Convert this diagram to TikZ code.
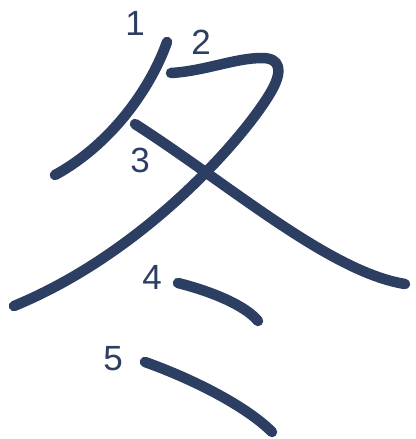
\documentclass[tikz,border=0pt]{standalone}
\usepackage{fontspec}
\setmainfont{Liberation Sans}
\definecolor{ink}{RGB}{44,62,98}
\begin{document}
\begin{tikzpicture}[x=1pt,y=-1pt,
  strokeline/.style={draw=ink,line width=10.5pt,line cap=round,line join=round},
  num/.style={text=ink,font=\fontsize{35}{35}\selectfont,inner sep=0pt}]
\useasboundingbox (0,0) rectangle (415,439);
% stroke 1
\draw[strokeline] (167,42) .. controls (150,90) and (110,145) .. (55,175);
% stroke 2
\draw[strokeline] (171,73) .. controls (205,71) and (235,58) .. (262,58)
  .. controls (280,58) and (283,70) .. (272,90)
  .. controls (250,130) and (150,250) .. (14,306);
% stroke 3
\draw[strokeline] (135,124) .. controls (230,185) and (330,272) .. (405,284);
% stroke 4
\draw[strokeline] (178,283) .. controls (210,291) and (245,305) .. (258,321);
% stroke 5
\draw[strokeline] (145,362) .. controls (190,378) and (245,405) .. (272,432);
% labels
\node[num] (n1) at (135,23) {1};
\node[num] (n2) at (201,42) {2};
\node[num] (n3) at (140,160) {3};
\node[num] (n4) at (152,277) {4};
\node[num] (n5) at (113,359) {5};
\end{tikzpicture}
\end{document}
